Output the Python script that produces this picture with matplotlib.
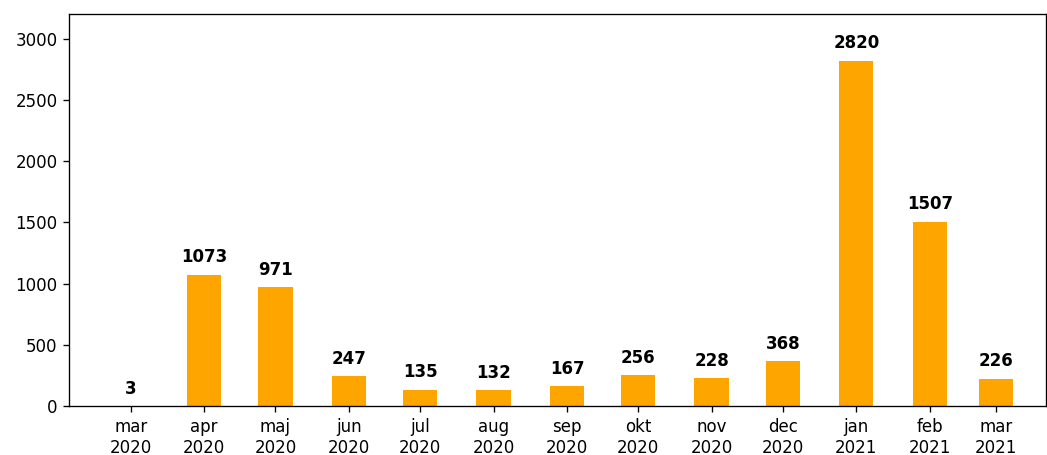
import numpy as np
import pandas as pd
import matplotlib
matplotlib.use("Agg")
import matplotlib.pyplot as plt

# Monthly counts
months = pd.date_range("2020-03-01", "2021-03-01", freq="MS")
month_names = ["mar", "apr", "maj", "jun", "jul", "aug", "sep", "okt",
               "nov", "dec", "jan", "feb", "mar"]
counts = [3, 1073, 971, 247, 135, 132, 167, 256, 228, 368, 2820, 1507, 226]

tick_labels = [f"{m}\n{d.year}" for m, d in zip(month_names, months)]

fig = plt.figure(figsize=(1047 / 120, 455 / 120), dpi=120)
ax = fig.add_axes([0.066, 0.107, 0.933, 0.862])

bars = ax.bar(months, counts, width=14.5, color="orange")

for d, c in zip(months, counts):
    ax.annotate(str(c), xy=(d, c), xytext=(0, 5), textcoords="offset points",
                ha="center", va="bottom", fontweight="bold")

ax.set_xticks(months)
ax.set_xticklabels(tick_labels)
ax.set_xlim(pd.Timestamp("2020-02-04"), pd.Timestamp("2021-03-22"))
ax.set_ylim(0, 3200)

fig.savefig("out.png", dpi=120)
